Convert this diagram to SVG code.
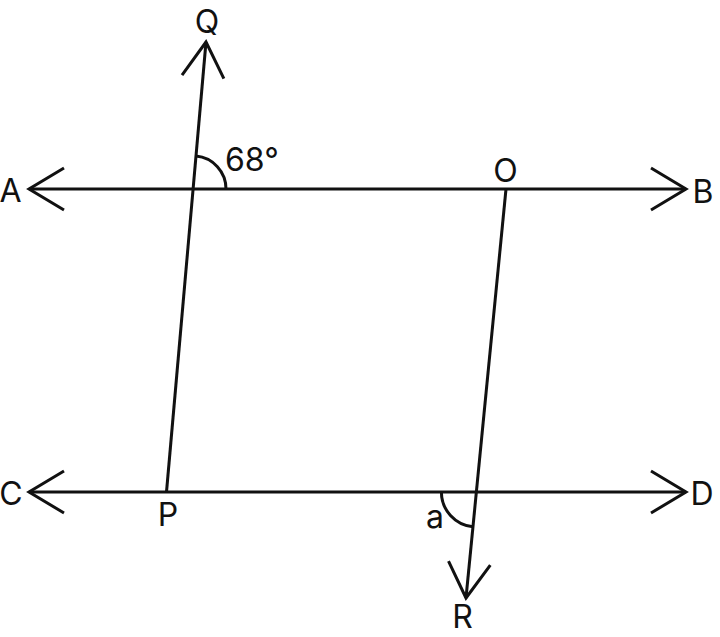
<svg xmlns="http://www.w3.org/2000/svg" width="720" height="637" viewBox="0 0 720 637">
<style>
.ln{stroke:#111;stroke-width:3;fill:none}
.arr{marker-start:url(#ah);marker-end:url(#ah)}
.one{marker-end:url(#ah)}
.lb{font-family:Inter,"Liberation Sans",sans-serif;font-size:32px;fill:#111}
.mid{text-anchor:middle}
</style>
<defs>
<marker id="ah" markerUnits="userSpaceOnUse" viewBox="-40 -25 44 50" refX="0" refY="0" markerWidth="44" markerHeight="50" orient="auto-start-reverse" overflow="visible">
<path d="M-35,-21 L0,0 L-35,21" fill="none" stroke="#111" stroke-width="3" stroke-linejoin="miter"/>
</marker>
</defs>
<rect width="720" height="637" fill="#fff"/>
<g id="connectors">
<line id="AB" class="ln arr" x1="29" y1="189" x2="686" y2="189"/>
<line id="CD" class="ln arr" x1="29" y1="492" x2="686" y2="492"/>
<line id="PQ" class="ln one" x1="166.5" y1="492" x2="206" y2="42"/>
<line id="OR" class="ln one" x1="506" y1="189" x2="466" y2="598"/>
<path id="arc68" class="ln" d="M226,189 A33,33 0 0 0 196,156.1"/>
<path id="arcA" class="ln" d="M441.4,492 A35,35 0 0 0 473,526.8"/>
</g>
<g id="A"><text class="lb mid" x="10.5" y="202">A</text></g>
<g id="B"><text class="lb mid" x="703" y="203">B</text></g>
<g id="C"><text class="lb mid" x="11" y="505">C</text></g>
<g id="D"><text class="lb mid" x="702" y="505">D</text></g>
<g id="Q"><text class="lb mid" x="207" y="33">Q</text></g>
<g id="O"><text class="lb mid" x="505.5" y="182">O</text></g>
<g id="P"><text class="lb mid" x="168" y="526">P</text></g>
<g id="R"><text class="lb mid" x="462.5" y="628">R</text></g>
<g id="angle68"><text class="lb" x="225" y="171">68°</text></g>
<g id="angleA"><text class="lb mid" x="435" y="528">a</text></g>
</svg>
